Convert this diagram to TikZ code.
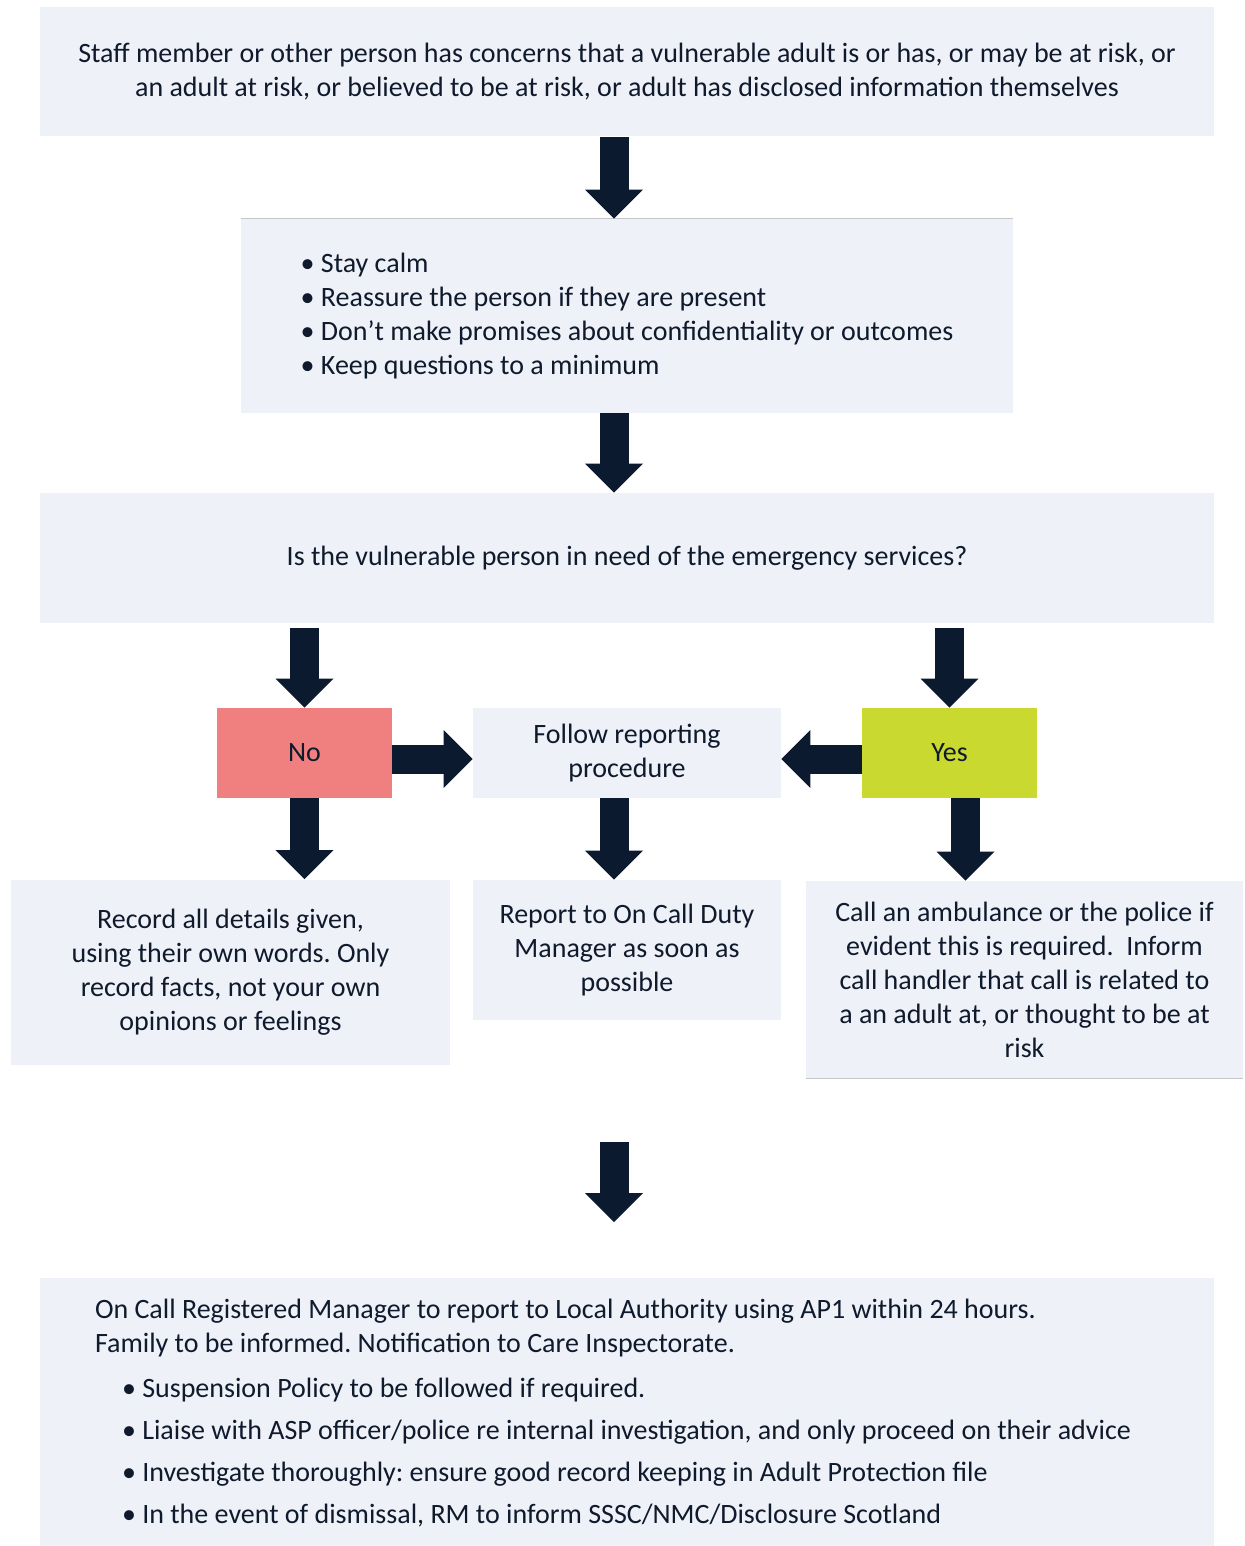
\documentclass[tikz,border=0pt]{standalone}
\usepackage{fontspec}
\setmainfont{Carlito}
\frenchspacing
\usetikzlibrary{arrows.meta}
\definecolor{boxfill}{HTML}{EEF1F8}
\definecolor{ink}{HTML}{0F1A2C}
\definecolor{arrowc}{HTML}{0B1A2F}
\definecolor{nofill}{HTML}{F08080}
\definecolor{yesfill}{HTML}{C9D92F}
\begin{document}
\begin{tikzpicture}[x=0.5pt, y=-0.5pt, font=\fontsize{14}{17}\selectfont,
    box/.style={fill=boxfill, text=ink, inner sep=0pt, align=center},
    blk/.style={draw=arrowc, line width=14.5pt, -{Triangle[line width=0pt, length=14.5pt, width=29pt]}},
    edge/.style={draw=gray!45, line width=0.6pt}]
  \useasboundingbox (0,0) rectangle (1244,1546);
  \node[box, minimum width=587pt, minimum height=64.5pt] (concern) at (627,72)
    {Staff member or other person has concerns that a vulnerable adult is or has, or may be at risk, or\\an adult at risk, or believed to be at risk, or adult has disclosed information themselves};
  \node[box, align=left, minimum width=386pt, minimum height=97pt] (tips) at (627,316)
    {• Stay calm\\• Reassure the person if they are present\\• Don’t make promises about confidentiality or outcomes\\• Keep questions to a minimum};
  \node[box, minimum width=587pt, minimum height=65pt] (question) at (627,558)
    {Is the vulnerable person in need of the emergency services?};
  \node[box, fill=nofill, minimum width=87.5pt, minimum height=45pt] (no) at (304.5,753) {No};
  \node[box, minimum width=154pt, minimum height=45pt] (follow) at (627,753) {Follow reporting\\procedure};
  \node[box, fill=yesfill, minimum width=87.5pt, minimum height=45pt] (yes) at (949.5,753) {Yes};
  \node[box, minimum width=219.5pt, minimum height=92.5pt] (record) at (230.5,972)
    {Record all details given,\\using their own words. Only\\record facts, not your own\\opinions or feelings};
  \node[box, minimum width=154pt, minimum height=70pt] (report) at (627,950)
    {Report to On Call Duty\\Manager as soon as\\possible};
  \node[box, minimum width=218.5pt, minimum height=98.5pt] (call) at (1024.5,979.5)
    {Call an ambulance or the police if\\evident this is required.\ \ Inform\\call handler that call is related to\\a an adult at, or thought to be at\\risk};
  \node[box, align=left, inner xsep=27.5pt, text width=532pt, minimum height=135pt] (authority) at (627,1413)
    {\spaceskip=0pt \xspaceskip=0pt
     On Call Registered Manager to report to Local Authority using AP1 within 24 hours.\\
     Family to be informed. Notification to Care Inspectorate.\\[5.5pt]
     \hspace*{13.5pt}• Suspension Policy to be followed if required.\\[4pt]
     \hspace*{13.5pt}• Liaise with ASP officer/police re internal investigation, and only proceed on their advice\\[4pt]
     \hspace*{13.5pt}• Investigate thoroughly: ensure good record keeping in Adult Protection file\\[4pt]
     \hspace*{13.5pt}• In the event of dismissal, RM to inform SSSC/NMC/Disclosure Scotland};
  \draw[edge] (tips.north west) -- (tips.north east);
  \draw[edge] (call.south west) -- (call.south east);
  \coordinate (merge) at (614,1142);
  \coordinate (mergeend) at (614,1222);
  \draw[blk] ([xshift=-6.5pt]concern.south) -- ([xshift=-6.5pt]tips.north);
  \draw[blk] ([xshift=-6.5pt]tips.south) -- ([xshift=-6.5pt]question.north);
  \draw[blk, shorten <=2.5pt] (no.north |- question.south) -- (no.north);
  \draw[blk, shorten <=2.5pt] (yes.north |- question.south) -- (yes.north);
  \draw[blk] ([yshift=-3pt]no.east) -- ([yshift=-3pt]follow.west);
  \draw[blk] ([yshift=-3pt]yes.west) -- ([yshift=-3pt]follow.east);
  \draw[blk] (no.south) -- (no.south |- record.north);
  \draw[blk] ([xshift=-6.5pt]follow.south) -- ([xshift=-6.5pt]report.north);
  \draw[blk] ([xshift=8pt]yes.south) -- ([xshift=8pt]yes.south |- call.north);
  \draw[blk] (merge) -- (mergeend);
\end{tikzpicture}
\end{document}
